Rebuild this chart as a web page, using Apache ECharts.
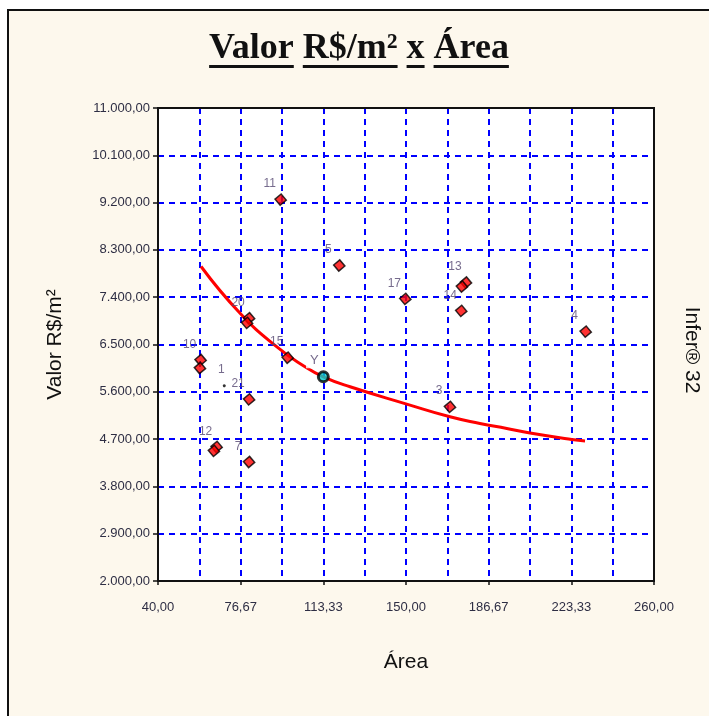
<!DOCTYPE html>
<html>
<head>
<meta charset="utf-8">
<script src="https://cdn.jsdelivr.net/npm/echarts@6/dist/echarts.min.js"></script>
<style>
html,body{margin:0;padding:0;background:#ffffff;}
#frame{position:absolute;left:7px;top:9px;width:700px;height:705px;background:#fdf8ed;border-left:2px solid #111;border-top:2px solid #111;}
#c{position:absolute;left:0;top:0;width:709px;height:716px;}
</style>
</head>
<body>
<div id="frame"></div>
<div id="c"></div>
<script>
// ---- data ----
const pointNames  = ['11', '5', '20', '', '10', '', '1', '21', '15', '12', '', '7', '17', '13', '', '14', '4', '3'];
const areaValues  = [94.4, 120.4, 80.4, 79.5, 58.9, 58.6, 69.4, 80.4, 97.5, 66.0, 64.8, 80.4, 149.7, 176.6, 174.8, 174.5, 229.7, 169.5];
const priceValues = [9256, 8003, 7000, 6911, 6205, 6052, 5715, 5455, 6249, 4551, 4475, 4265, 7368, 7679, 7603, 7139, 6745, 5314];

const estimateNames  = ['Y'];
const estimateArea   = [113.33];
const estimatePrice  = [5886];

const curveArea  = [59.1, 76.4, 92.6, 105.2, 113.3, 125.2, 150.3, 169.5, 182.8, 194.7, 205.0, 223.5, 229.4];
const curvePrice = [7984, 7095, 6458, 6077, 5886, 5696, 5366, 5124, 4998, 4902, 4815, 4693, 4666];

const xAxisMin = 40, xAxisMax = 260, xAxisStep = 220 / 6;
const yAxisMin = 2000, yAxisMax = 11000, yAxisStep = 900;

const titleWords = ['Valor', 'R$/m²', 'x', 'Área'];
const xAxisTitle = 'Área';
const yAxisTitle = 'Valor R$/m²';
const sideNote = 'Infer® 32';

// ---- helpers ----
function br(v) {
  const s = Math.abs(v).toFixed(2);
  let parts = s.split('.');
  let i = parts[0].replace(/\B(?=(\d{3})+(?!\d))/g, '.');
  return (v < 0 ? '-' : '') + i + ',' + parts[1];
}

const chart = echarts.init(document.getElementById('c'), null, {renderer: 'canvas'});

const pts = pointNames.map((n, i) => {
  const d = {name: n, value: [areaValues[i], priceValues[i]]};
  if (n === '1') {
    d.symbol = 'circle';
    d.symbolSize = 3;
    d.itemStyle = {color: '#000', borderWidth: 0};
    d.label = {distance: 8, offset: [-3, 0]};
  }
  return d;
});
const est = estimateNames.map((n, i) => ({name: n, value: [estimateArea[i], estimatePrice[i]]}));
const curve = curveArea.map((x, i) => [x, curvePrice[i]]);

// grid placement (layout)
const G = {left: 158, top: 108, right: 55, bottom: 135};
const gridRightX = 709 - G.right, gridBottomY = 716 - G.bottom;

// title with per-word underline
const titleFont = 'bold 36px "Liberation Serif", "Times New Roman", serif';
const cv = document.createElement('canvas').getContext('2d');
cv.font = titleFont;
const fullTitle = titleWords.join(' ');
const totalW = cv.measureText(fullTitle).width;
const titleCx = 359;
const startX = titleCx - totalW / 2;
const underlines = [];
let prefix = '';
titleWords.forEach((w, i) => {
  const x0 = startX + cv.measureText(prefix).width;
  const ww = cv.measureText(w).width;
  underlines.push({type: 'rect', shape: {x: x0, y: 65, width: ww, height: 3}, style: {fill: '#111'}, z: 100});
  prefix += w + ' ';
});

const labelFont = 'Arial, "Liberation Sans", sans-serif';
const gridLine = {show: true, showMinLine: false, showMaxLine: false, lineStyle: {color: '#0000ff', type: [6, 5], width: 2}};

const option = {
  backgroundColor: 'transparent',
  animation: false,
  grid: {left: G.left, top: G.top, right: G.right, bottom: G.bottom, show: true, backgroundColor: '#ffffff', borderColor: '#111', borderWidth: 2, containLabel: false},
  xAxis: {
    type: 'value', min: xAxisMin, max: xAxisMax, interval: xAxisStep,
    name: xAxisTitle, nameLocation: 'middle', nameGap: 71,
    nameTextStyle: {fontFamily: labelFont, fontSize: 21, color: '#111'},
    axisLine: {show: true, lineStyle: {color: '#111', width: 2}},
    axisTick: {show: true, length: 4, lineStyle: {color: '#111', width: 1.5}},
    axisLabel: {formatter: v => br(v), fontFamily: labelFont, fontSize: 13, color: '#2e2e44', margin: 20},
    splitLine: gridLine,
    minorTick: {show: false, splitNumber: 2},
    minorSplitLine: {show: true, lineStyle: {color: '#0000ff', type: [6, 5], width: 2}}
  },
  yAxis: {
    type: 'value', min: yAxisMin, max: yAxisMax, interval: yAxisStep,
    name: yAxisTitle, nameLocation: 'middle', nameGap: 92,
    nameTextStyle: {fontFamily: labelFont, fontSize: 21, color: '#111'},
    axisLine: {show: true, lineStyle: {color: '#111', width: 2}},
    axisTick: {show: true, length: 5, lineStyle: {color: '#111', width: 1.5}},
    axisLabel: {formatter: v => br(v), fontFamily: labelFont, fontSize: 13, color: '#2e2e44', margin: 8},
    splitLine: gridLine
  },
  graphic: [
    {type: 'text', x: titleCx, y: 49, z: 100, style: {text: fullTitle, font: titleFont, fill: '#111', align: 'center', verticalAlign: 'middle'}},
    ...underlines,
    {type: 'text', x: 692, y: 350, rotation: -Math.PI / 2, z: 100, style: {text: sideNote, font: '21px Arial, "Liberation Sans", sans-serif', fill: '#111', align: 'center', verticalAlign: 'middle'}},
    {type: 'line', z: 50, shape: {x1: gridRightX, y1: G.top, x2: gridRightX, y2: gridBottomY}, style: {stroke: '#111', lineWidth: 2}},
    {type: 'line', z: 50, shape: {x1: G.left, y1: G.top, x2: gridRightX, y2: G.top}, style: {stroke: '#111', lineWidth: 2}}
  ],
  series: [
    {
      type: 'line', data: curve, smooth: true, showSymbol: false, symbol: 'none',
      lineStyle: {color: '#ff0000', width: 3}, z: 2, silent: true
    },
    {
      type: 'scatter', data: pts, symbol: 'rect', symbolSize: 8, symbolRotate: 40,
      itemStyle: {color: '#ff0000', borderColor: '#000', borderWidth: 1.5},
      label: {show: true, formatter: '{b}', position: 'top', distance: 3, offset: [-11, 0], fontFamily: labelFont, fontSize: 12, color: '#544670'},
      z: 3
    },
    {
      type: 'scatter', data: est, symbol: 'circle', symbolSize: 10,
      itemStyle: {color: '#00d0d0', borderColor: '#000', borderWidth: 3},
      label: {show: true, formatter: '{b}', position: 'top', distance: 2, offset: [-10, 0], fontFamily: labelFont, fontSize: 13, color: '#544670', backgroundColor: '#ffffff', padding: [1, 2, 1, 4]},
      z: 4
    }
  ]
};
chart.setOption(option);
</script>
</body>
</html>
